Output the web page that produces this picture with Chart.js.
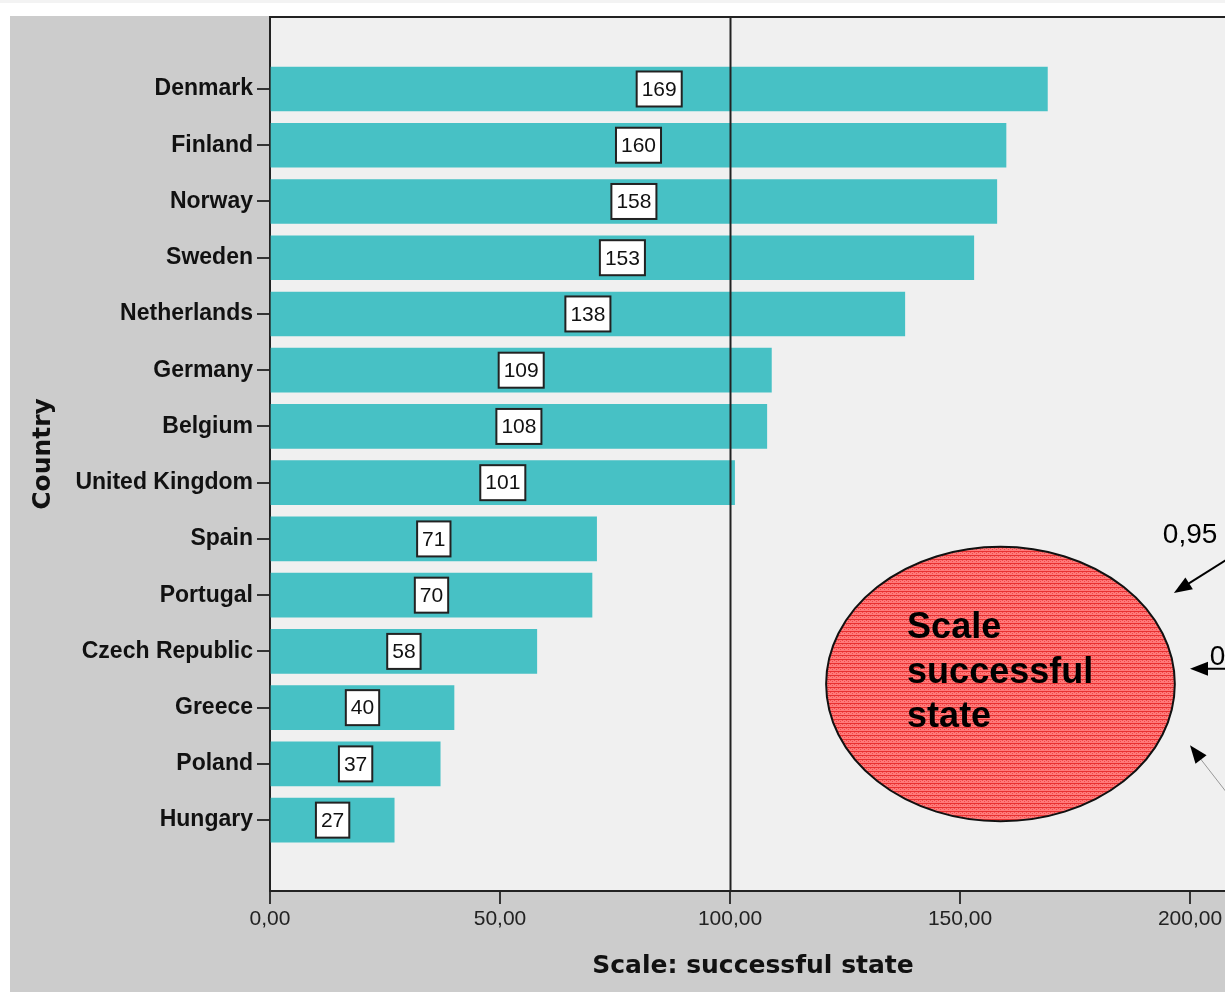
<!DOCTYPE html>
<html>
<head>
<meta charset="utf-8">
<script src="https://cdn.jsdelivr.net/npm/chart.js@4.4.1/dist/chart.umd.min.js"></script>
<style>
  html, body { margin: 0; padding: 0; background: #fff; overflow: hidden; width: 1225px; height: 992px; }
  #strip { position: absolute; left: 0; top: 0; width: 1225px; height: 3px; background: #f3f3f3; }
  #panel { position: absolute; left: 10px; top: 16px; width: 1300px; height: 976px; background: #cccccc; }
</style>
</head>
<body>
<div id="strip"></div>
<div id="panel"><canvas id="successChart" width="1300" height="976"></canvas></div>
<script>
// Scale of the successful state, per country
const countries = ['Denmark', 'Finland', 'Norway', 'Sweden', 'Netherlands', 'Germany', 'Belgium',
    'United Kingdom', 'Spain', 'Portugal', 'Czech Republic', 'Greece', 'Poland', 'Hungary'];
const scores = [169, 160, 158, 153, 138, 109, 108, 101, 71, 70, 58, 40, 37, 27];
const xTicks = [0, 50, 100, 150, 200];
const referenceValue = 100;

// callout: ellipse + arrows, in axis units (x = score, y = country index)
const ellipse = { cx: 158.8, cy: 10.58, rx: 37.9, ry: 2.44 };
const ellipseText = { x: 138.5, lines: ['Scale', 'successful', 'state'], baselines: [9.76, 10.56, 11.35] };
const arrows = [
    { from: [215.7, 7.97], to: [196.5, 8.96], color: '#000', width: 2 },
    { from: [215.7, 10.31], to: [200, 10.31], color: '#000', width: 2 },
    { from: [213, 13.04], to: [200, 11.67], color: '#999', width: 1 }
];
const arrowLabels = [
    { text: '0,95', x: 194.1, y: 8.07 },
    { text: '0', x: 204.3, y: 10.24 }
];

const fmt = v => v.toFixed(2).replace('.', ',');

const plotBackground = {
    id: 'plotBackground',
    beforeDraw(chart) {
        const { ctx, chartArea: a } = chart;
        ctx.save();
        ctx.fillStyle = '#f0f0f0';
        ctx.fillRect(a.left, a.top, a.right - a.left, a.bottom - a.top);
        ctx.restore();
    }
};

const barLabels = {
    id: 'barLabels',
    afterDatasetsDraw(chart) {
        const { ctx, chartArea: a, scales } = chart;
        ctx.save();
        // frame top + reference line
        ctx.strokeStyle = '#222';
        ctx.lineWidth = 2;
        ctx.beginPath();
        ctx.moveTo(a.left, a.top);
        ctx.lineTo(a.right, a.top);
        const rx = Math.round(scales.x.getPixelForValue(referenceValue)) + 0.5;
        ctx.moveTo(rx, a.top);
        ctx.lineTo(rx, a.bottom);
        ctx.stroke();

        ctx.font = '21px "Liberation Sans", Arial, sans-serif';
        ctx.textAlign = 'center';
        ctx.textBaseline = 'middle';
        chart.getDatasetMeta(0).data.forEach((bar, i) => {
            const txt = String(scores[i]);
            const cx = (bar.base + bar.x) / 2;
            const w = ctx.measureText(txt).width + 10;
            const h = 35;
            ctx.fillStyle = '#fff';
            ctx.fillRect(cx - w / 2, bar.y - h / 2, w, h);
            ctx.strokeStyle = '#222';
            ctx.lineWidth = 2;
            ctx.strokeRect(cx - w / 2, bar.y - h / 2, w, h);
            ctx.fillStyle = '#111';
            ctx.fillText(txt, cx, bar.y + 1);
        });
        ctx.restore();
    }
};

function redPattern(ctx) {
    const p = document.createElement('canvas');
    p.width = 4; p.height = 4;
    const c = p.getContext('2d');
    c.fillStyle = '#ff7a7a';
    c.fillRect(0, 0, 4, 4);
    c.fillStyle = '#e83030';
    c.fillRect(0, 3, 4, 1);
    c.fillStyle = '#f04848';
    c.fillRect(0, 0, 1, 1);
    c.fillRect(2, 1, 1, 1);
    return ctx.createPattern(p, 'repeat');
}

const callout = {
    id: 'callout',
    afterDraw(chart) {
        const { ctx, scales: { x, y } } = chart;
        const X = v => x.getPixelForValue(v);
        const Y = v => y.getPixelForValue(v);
        ctx.save();
        const ex = X(ellipse.cx), ey = Y(ellipse.cy);
        const erx = X(ellipse.cx + ellipse.rx) - ex;
        const ery = Math.abs(Y(ellipse.cy + ellipse.ry) - ey);
        ctx.beginPath();
        ctx.ellipse(ex, ey, erx, ery, 0, 0, Math.PI * 2);
        ctx.fillStyle = redPattern(ctx);
        ctx.fill();
        ctx.strokeStyle = '#111';
        ctx.lineWidth = 2;
        ctx.stroke();

        ctx.fillStyle = '#000';
        ctx.font = 'bold 36px "Liberation Sans", Arial, sans-serif';
        ctx.textAlign = 'left';
        ctx.textBaseline = 'alphabetic';
        ellipseText.lines.forEach((t, i) => ctx.fillText(t, X(ellipseText.x), Y(ellipseText.baselines[i])));

        ctx.font = '28px "Liberation Sans", Arial, sans-serif';
        arrowLabels.forEach(l => ctx.fillText(l.text, X(l.x), Y(l.y)));

        arrows.forEach(a => {
            const x0 = X(a.from[0]), y0 = Y(a.from[1]);
            const x1 = X(a.to[0]), y1 = Y(a.to[1]);
            const ang = Math.atan2(y1 - y0, x1 - x0);
            ctx.strokeStyle = a.color;
            ctx.lineWidth = a.width;
            ctx.beginPath();
            ctx.moveTo(x0, y0);
            ctx.lineTo(x1 - 14 * Math.cos(ang), y1 - 14 * Math.sin(ang));
            ctx.stroke();
            ctx.fillStyle = '#000';
            ctx.beginPath();
            ctx.moveTo(x1, y1);
            ctx.lineTo(x1 - 18 * Math.cos(ang) + 7 * Math.sin(ang), y1 - 18 * Math.sin(ang) - 7 * Math.cos(ang));
            ctx.lineTo(x1 - 18 * Math.cos(ang) - 7 * Math.sin(ang), y1 - 18 * Math.sin(ang) + 7 * Math.cos(ang));
            ctx.closePath();
            ctx.fill();
        });
        ctx.restore();
    }
};

new Chart(document.getElementById('successChart').getContext('2d'), {
    type: 'bar',
    data: {
        datasets: [{
            data: scores.map((v, i) => ({ x: v, y: i })),
            backgroundColor: '#47c1c5',
            borderWidth: 0,
            barThickness: 44
        }]
    },
    options: {
        indexAxis: 'y',
        responsive: false,
        animation: false,
        layout: { padding: { top: 1, right: 74, left: 0, bottom: 0 } },
        plugins: { legend: { display: false }, tooltip: { enabled: false } },
        scales: {
            x: {
                type: 'linear',
                min: 0,
                max: 210,
                offset: false,
                afterBuildTicks: s => { s.ticks = xTicks.map(v => ({ value: v })); },
                afterFit: s => { s.height = 101; },
                grid: { drawOnChartArea: false, offset: false, tickLength: 13, lineWidth: 2, color: '#333' },
                border: { display: true, color: '#222', width: 2 },
                ticks: {
                    padding: 3,
                    color: '#222',
                    font: { family: '"Liberation Sans", Arial, sans-serif', size: 21 },
                    callback: v => fmt(v)
                },
                title: {
                    display: true,
                    text: 'Scale: successful state',
                    color: '#111',
                    font: { family: '"DejaVu Sans", Verdana, sans-serif', size: 25, weight: 'bold' },
                    padding: { top: 0, bottom: 11 }
                }
            },
            y: {
                type: 'linear',
                reverse: true,
                min: -1.28,
                max: 14.26,
                offset: false,
                z: 1,
                afterBuildTicks: s => { s.ticks = countries.map((c, i) => ({ value: i })); },
                afterFit: s => { s.width = 260; s.paddingTop = 0; s.paddingBottom = 0; },
                grid: { drawOnChartArea: false, offset: false, tickLength: 13, lineWidth: 2, color: '#333' },
                border: { display: true, color: '#222', width: 2 },
                ticks: {
                    padding: 4,
                    color: '#111',
                    font: { family: '"Liberation Sans", Arial, sans-serif', size: 23, weight: 'bold' },
                    callback: v => countries[v]
                },
                title: {
                    display: true,
                    text: 'Country',
                    color: '#111',
                    font: { family: '"DejaVu Sans", Verdana, sans-serif', size: 25, weight: 'bold' },
                    padding: { top: 18, bottom: 0 }
                }
            }
        }
    },
    plugins: [plotBackground, barLabels, callout]
});
</script>
</body>
</html>
